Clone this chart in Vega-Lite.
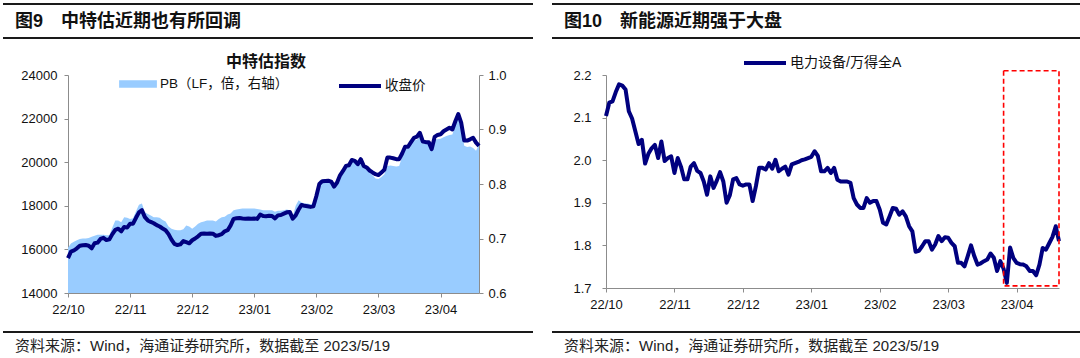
{
  "$schema": "https://vega.github.io/schema/vega-lite/v6.json",
  "padding": {"left": 2, "top": 3, "right": 0, "bottom": 0},
  "background": "white",
  "config": {
    "view": {"stroke": null},
    "font": "Liberation Sans",
    "axis": {"grid": false, "domainColor": "#8c8c8c", "tickColor": "#8c8c8c", "labelColor": "#111111", "labelFont": "Liberation Sans", "labelFontSize": 13, "tickSize": 4}
  },
  "datasets": {
    "s": [
      {"d":"2022-10-24","close":15600,"pb":0.683,"ratio":2.104},
      {"d":"2022-10-25","close":15900,"pb":0.691,"ratio":2.135},
      {"d":"2022-10-26","close":15950,"pb":0.694,"ratio":2.138},
      {"d":"2022-10-27","close":16050,"pb":0.697,"ratio":2.160},
      {"d":"2022-10-28","close":16170,"pb":0.699,"ratio":2.178},
      {"d":"2022-10-31","close":16190,"pb":0.700,"ratio":2.175},
      {"d":"2022-11-01","close":16200,"pb":0.700,"ratio":2.166},
      {"d":"2022-11-02","close":16170,"pb":0.701,"ratio":2.115},
      {"d":"2022-11-03","close":16050,"pb":0.703,"ratio":2.098},
      {"d":"2022-11-04","close":16280,"pb":0.705,"ratio":2.068},
      {"d":"2022-11-07","close":16310,"pb":0.707,"ratio":2.038},
      {"d":"2022-11-08","close":16480,"pb":0.707,"ratio":2.048},
      {"d":"2022-11-09","close":16530,"pb":0.707,"ratio":1.992},
      {"d":"2022-11-10","close":16430,"pb":0.706,"ratio":2.015},
      {"d":"2022-11-11","close":16460,"pb":0.706,"ratio":2.028},
      {"d":"2022-11-14","close":16700,"pb":0.720,"ratio":2.036},
      {"d":"2022-11-15","close":16900,"pb":0.733,"ratio":2.005},
      {"d":"2022-11-16","close":16950,"pb":0.733,"ratio":2.044},
      {"d":"2022-11-17","close":16830,"pb":0.730,"ratio":1.998},
      {"d":"2022-11-18","close":17030,"pb":0.739,"ratio":2.005},
      {"d":"2022-11-21","close":17000,"pb":0.738,"ratio":2.009},
      {"d":"2022-11-22","close":17180,"pb":0.736,"ratio":1.970},
      {"d":"2022-11-23","close":17180,"pb":0.737,"ratio":2.005},
      {"d":"2022-11-24","close":17450,"pb":0.750,"ratio":1.985},
      {"d":"2022-11-25","close":17700,"pb":0.762,"ratio":1.955},
      {"d":"2022-11-28","close":17800,"pb":0.764,"ratio":1.955},
      {"d":"2022-11-29","close":17480,"pb":0.748,"ratio":1.985},
      {"d":"2022-11-30","close":17330,"pb":0.745,"ratio":1.993},
      {"d":"2022-12-01","close":17260,"pb":0.742,"ratio":1.975},
      {"d":"2022-12-02","close":17200,"pb":0.739,"ratio":1.970},
      {"d":"2022-12-05","close":17110,"pb":0.739,"ratio":1.950},
      {"d":"2022-12-06","close":17050,"pb":0.738,"ratio":1.919},
      {"d":"2022-12-07","close":16960,"pb":0.734,"ratio":1.962},
      {"d":"2022-12-08","close":16880,"pb":0.731,"ratio":1.935},
      {"d":"2022-12-09","close":16700,"pb":0.722,"ratio":1.952},
      {"d":"2022-12-12","close":16450,"pb":0.718,"ratio":1.972},
      {"d":"2022-12-13","close":16250,"pb":0.716,"ratio":1.950},
      {"d":"2022-12-14","close":16200,"pb":0.715,"ratio":1.900},
      {"d":"2022-12-15","close":16230,"pb":0.715,"ratio":1.918},
      {"d":"2022-12-16","close":16380,"pb":0.717,"ratio":1.955},
      {"d":"2022-12-19","close":16330,"pb":0.724,"ratio":1.958},
      {"d":"2022-12-20","close":16280,"pb":0.722,"ratio":1.943},
      {"d":"2022-12-21","close":16420,"pb":0.718,"ratio":1.940},
      {"d":"2022-12-22","close":16500,"pb":0.722,"ratio":1.943},
      {"d":"2022-12-23","close":16600,"pb":0.727,"ratio":1.943},
      {"d":"2022-12-26","close":16720,"pb":0.730,"ratio":1.904},
      {"d":"2022-12-27","close":16730,"pb":0.731,"ratio":1.939},
      {"d":"2022-12-28","close":16720,"pb":0.733,"ratio":1.982},
      {"d":"2022-12-29","close":16730,"pb":0.733,"ratio":1.982},
      {"d":"2022-12-30","close":16720,"pb":0.733,"ratio":1.978},
      {"d":"2023-01-03","close":16620,"pb":0.731,"ratio":1.993},
      {"d":"2023-01-04","close":16650,"pb":0.736,"ratio":1.980},
      {"d":"2023-01-05","close":16700,"pb":0.739,"ratio":2.001},
      {"d":"2023-01-06","close":16830,"pb":0.740,"ratio":1.974},
      {"d":"2023-01-09","close":16880,"pb":0.744,"ratio":1.980},
      {"d":"2023-01-10","close":17100,"pb":0.746,"ratio":1.985},
      {"d":"2023-01-11","close":17400,"pb":0.752,"ratio":1.966},
      {"d":"2023-01-12","close":17430,"pb":0.753,"ratio":1.990},
      {"d":"2023-01-13","close":17440,"pb":0.754,"ratio":1.993},
      {"d":"2023-01-16","close":17420,"pb":0.755,"ratio":1.996},
      {"d":"2023-01-17","close":17410,"pb":0.755,"ratio":2.000},
      {"d":"2023-01-18","close":17420,"pb":0.755,"ratio":2.002},
      {"d":"2023-01-19","close":17410,"pb":0.755,"ratio":2.005},
      {"d":"2023-01-20","close":17420,"pb":0.755,"ratio":2.008},
      {"d":"2023-01-30","close":17400,"pb":0.754,"ratio":2.021},
      {"d":"2023-01-31","close":17600,"pb":0.753,"ratio":2.010},
      {"d":"2023-02-01","close":17530,"pb":0.752,"ratio":1.974},
      {"d":"2023-02-02","close":17520,"pb":0.752,"ratio":1.974},
      {"d":"2023-02-03","close":17540,"pb":0.752,"ratio":1.982},
      {"d":"2023-02-06","close":17530,"pb":0.752,"ratio":1.970},
      {"d":"2023-02-07","close":17420,"pb":0.749,"ratio":1.982},
      {"d":"2023-02-08","close":17560,"pb":0.751,"ratio":1.954},
      {"d":"2023-02-09","close":17580,"pb":0.751,"ratio":1.950},
      {"d":"2023-02-10","close":17640,"pb":0.752,"ratio":1.950},
      {"d":"2023-02-13","close":17700,"pb":0.753,"ratio":1.950},
      {"d":"2023-02-14","close":17720,"pb":0.752,"ratio":1.947},
      {"d":"2023-02-15","close":17410,"pb":0.740,"ratio":1.911},
      {"d":"2023-02-16","close":17560,"pb":0.760,"ratio":1.896},
      {"d":"2023-02-17","close":17830,"pb":0.770,"ratio":1.888},
      {"d":"2023-02-20","close":18040,"pb":0.766,"ratio":1.888},
      {"d":"2023-02-21","close":18000,"pb":0.764,"ratio":1.911},
      {"d":"2023-02-22","close":17980,"pb":0.764,"ratio":1.900},
      {"d":"2023-02-23","close":17950,"pb":0.763,"ratio":1.904},
      {"d":"2023-02-24","close":17980,"pb":0.764,"ratio":1.904},
      {"d":"2023-02-27","close":18450,"pb":0.782,"ratio":1.884},
      {"d":"2023-02-28","close":19000,"pb":0.806,"ratio":1.853},
      {"d":"2023-03-01","close":19130,"pb":0.808,"ratio":1.849},
      {"d":"2023-03-02","close":19140,"pb":0.809,"ratio":1.868},
      {"d":"2023-03-03","close":19150,"pb":0.808,"ratio":1.888},
      {"d":"2023-03-06","close":19110,"pb":0.807,"ratio":1.886},
      {"d":"2023-03-07","close":18880,"pb":0.797,"ratio":1.872},
      {"d":"2023-03-08","close":19070,"pb":0.803,"ratio":1.880},
      {"d":"2023-03-09","close":19400,"pb":0.816,"ratio":1.868},
      {"d":"2023-03-10","close":19600,"pb":0.821,"ratio":1.845},
      {"d":"2023-03-13","close":19830,"pb":0.831,"ratio":1.833},
      {"d":"2023-03-14","close":19860,"pb":0.833,"ratio":1.785},
      {"d":"2023-03-15","close":20100,"pb":0.842,"ratio":1.787},
      {"d":"2023-03-16","close":20060,"pb":0.841,"ratio":1.798},
      {"d":"2023-03-17","close":19910,"pb":0.836,"ratio":1.810},
      {"d":"2023-03-20","close":20140,"pb":0.842,"ratio":1.810},
      {"d":"2023-03-21","close":19830,"pb":0.833,"ratio":1.790},
      {"d":"2023-03-22","close":19760,"pb":0.826,"ratio":1.802},
      {"d":"2023-03-23","close":19620,"pb":0.821,"ratio":1.822},
      {"d":"2023-03-24","close":19530,"pb":0.816,"ratio":1.810},
      {"d":"2023-03-27","close":19450,"pb":0.810,"ratio":1.819},
      {"d":"2023-03-28","close":19410,"pb":0.809,"ratio":1.818},
      {"d":"2023-03-29","close":19530,"pb":0.813,"ratio":1.806},
      {"d":"2023-03-30","close":19650,"pb":0.818,"ratio":1.798},
      {"d":"2023-03-31","close":20210,"pb":0.833,"ratio":1.759},
      {"d":"2023-04-03","close":20210,"pb":0.834,"ratio":1.759},
      {"d":"2023-04-04","close":20180,"pb":0.833,"ratio":1.751},
      {"d":"2023-04-06","close":20140,"pb":0.832,"ratio":1.775},
      {"d":"2023-04-07","close":20140,"pb":0.833,"ratio":1.800},
      {"d":"2023-04-10","close":20400,"pb":0.850,"ratio":1.775},
      {"d":"2023-04-11","close":20710,"pb":0.864,"ratio":1.755},
      {"d":"2023-04-12","close":20710,"pb":0.866,"ratio":1.758},
      {"d":"2023-04-13","close":20920,"pb":0.876,"ratio":1.763},
      {"d":"2023-04-14","close":21120,"pb":0.880,"ratio":1.767},
      {"d":"2023-04-17","close":21170,"pb":0.881,"ratio":1.781},
      {"d":"2023-04-18","close":21350,"pb":0.886,"ratio":1.771},
      {"d":"2023-04-19","close":20950,"pb":0.874,"ratio":1.740},
      {"d":"2023-04-20","close":20920,"pb":0.876,"ratio":1.763},
      {"d":"2023-04-21","close":20920,"pb":0.876,"ratio":1.745},
      {"d":"2023-04-24","close":20600,"pb":0.864,"ratio":1.712},
      {"d":"2023-04-25","close":21160,"pb":0.881,"ratio":1.795},
      {"d":"2023-04-26","close":21250,"pb":0.882,"ratio":1.770},
      {"d":"2023-04-27","close":21280,"pb":0.883,"ratio":1.759},
      {"d":"2023-04-28","close":21420,"pb":0.886,"ratio":1.756},
      {"d":"2023-05-04","close":21500,"pb":0.888,"ratio":1.755},
      {"d":"2023-05-05","close":21580,"pb":0.890,"ratio":1.751},
      {"d":"2023-05-08","close":21500,"pb":0.891,"ratio":1.740},
      {"d":"2023-05-09","close":21880,"pb":0.909,"ratio":1.740},
      {"d":"2023-05-10","close":22210,"pb":0.926,"ratio":1.730},
      {"d":"2023-05-11","close":21800,"pb":0.905,"ratio":1.755},
      {"d":"2023-05-12","close":21000,"pb":0.870,"ratio":1.794},
      {"d":"2023-05-15","close":20990,"pb":0.868,"ratio":1.790},
      {"d":"2023-05-16","close":21050,"pb":0.869,"ratio":1.805},
      {"d":"2023-05-17","close":21120,"pb":0.866,"ratio":1.820},
      {"d":"2023-05-18","close":20900,"pb":0.861,"ratio":1.845},
      {"d":"2023-05-19","close":20750,"pb":0.872,"ratio":1.810}
    ],
    "box": [{"start": "2023-04-21", "end": "2023-05-19", "lo": 1.705, "hi": 2.21}],
    "edges": [{"edge": 0}, {"edge": 1}]
  },
  "columns": 1,
  "align": "none",
  "spacing": 15,
  "concat": [
    {
      "spacing": 17,
      "hconcat": [
        {
          "width": 530, "height": 34,
          "data": {"name": "edges"},
          "title": {"text": "图9　中特估近期也有所回调", "anchor": "start", "offset": -28, "dx": 13, "fontSize": 18, "fontWeight": "bold", "font": "Liberation Sans, Noto Sans CJK SC", "color": "#111111"},
          "mark": {"type": "rule", "stroke": "#1a1a1a", "strokeWidth": 1.8},
          "encoding": {"y": {"field": "edge", "type": "quantitative", "scale": {"domain": [0, 1]}, "axis": null}}
        },
        {
          "width": 530, "height": 34,
          "data": {"name": "edges"},
          "title": {"text": "图10　新能源近期强于大盘", "anchor": "start", "offset": -28, "dx": 13, "fontSize": 18, "fontWeight": "bold", "font": "Liberation Sans, Noto Sans CJK SC", "color": "#111111"},
          "mark": {"type": "rule", "stroke": "#1a1a1a", "strokeWidth": 1.8},
          "encoding": {"y": {"field": "edge", "type": "quantitative", "scale": {"domain": [0, 1]}, "axis": null}}
        }
      ]
    },
    {
      "spacing": 31,
      "resolve": {"scale": {"color": "independent", "stroke": "independent", "fill": "independent"}},
      "hconcat": [
        {
          "width": 476, "height": 218,
          "data": {"name": "s"},
          "title": {"text": "中特估指数", "fontSize": 16, "fontWeight": "bold", "font": "Noto Sans CJK SC", "color": "#111111", "frame": "group", "anchor": "middle", "offset": -1, "dx": 25},
          "encoding": {
            "x": {"field": "d", "type": "ordinal", "scale": {"type": "point", "padding": 0, "range": [65, 476]},
              "axis": {"values": ["2022-10-24","2022-11-22","2022-12-21","2023-01-20","2023-02-27","2023-03-28","2023-04-27"], "labelExpr": "slice(datum.value,2,4)+'/'+slice(datum.value,5,7)", "labelAngle": 0, "labelPadding": 6, "title": null}}
          },
          "layer": [
            {
              "mark": {"type": "area", "opacity": 1},
              "encoding": {
                "y": {"field": "pb", "type": "quantitative", "scale": {"domain": [0.6, 1.0], "zero": false, "nice": false},
                  "axis": {"orient": "right", "values": [0.6, 0.7, 0.8, 0.9, 1.0], "format": ".1f", "title": null, "labelPadding": 5, "minExtent": 40, "maxExtent": 40}},
                "y2": {"datum": 0.6},
                "fill": {"datum": "PB（LF，倍，右轴）", "type": "nominal", "scale": {"range": ["#99CCFF"]},
                  "legend": {"orient": "none", "legendX": 128, "legendY": 2, "title": null, "padding": 0, "symbolType": "M-2.7,-0.55L2.7,-0.55L2.7,0.55L-2.7,0.55Z", "symbolSize": 196, "symbolStrokeWidth": 0, "symbolOpacity": 1, "labelFont": "Liberation Sans, Noto Sans CJK SC", "labelFontSize": 13.5, "labelColor": "#111111", "labelOffset": 15}}
              }
            },
            {
              "mark": {"type": "line", "strokeWidth": 4, "strokeJoin": "round"},
              "encoding": {
                "y": {"field": "close", "type": "quantitative", "scale": {"domain": [14000, 24000], "zero": false, "nice": false},
                  "axis": {"orient": "left", "offset": -65, "values": [14000, 16000, 18000, 20000, 22000, 24000], "format": "d", "title": null, "labelPadding": 7, "minExtent": 0, "maxExtent": 200}},
                "stroke": {"datum": "收盘价", "type": "nominal", "scale": {"range": ["#00007F"]},
                  "legend": {"orient": "none", "legendX": 348, "legendY": 2, "title": null, "padding": 0, "symbolType": "M-3,0L3,0", "symbolSize": 196, "symbolStrokeWidth": 4, "labelFont": "Liberation Sans, Noto Sans CJK SC", "labelFontSize": 13.5, "labelColor": "#111111", "labelOffset": 16}}
              }
            }
          ],
          "resolve": {"scale": {"y": "independent"}}
        },
        {
          "width": 509, "height": 213,
          "layer": [
            {
              "data": {"name": "s"},
              "mark": {"type": "line", "strokeWidth": 4, "strokeJoin": "round"},
              "encoding": {
                "x": {"field": "d", "type": "ordinal", "scale": {"type": "point", "padding": 0, "range": [56, 509]},
                  "axis": {"values": ["2022-10-24","2022-11-22","2022-12-21","2023-01-20","2023-02-27","2023-03-28","2023-04-27"], "labelExpr": "slice(datum.value,2,4)+'/'+slice(datum.value,5,7)", "labelAngle": 0, "labelPadding": 6, "title": null}},
                "y": {"field": "ratio", "type": "quantitative", "scale": {"domain": [1.7, 2.2], "zero": false, "nice": false},
                  "axis": {"offset": -56, "values": [1.7, 1.8, 1.9, 2.0, 2.1, 2.2], "format": ".1f", "title": null, "labelPadding": 11, "minExtent": 0, "maxExtent": 200}},
                "color": {"datum": "电力设备/万得全A", "type": "nominal", "scale": {"range": ["#00007F"]},
                  "legend": {"orient": "none", "legendX": 206, "legendY": -21, "title": null, "padding": 0, "symbolType": "M-3,0L3,0", "symbolSize": 196, "symbolStrokeWidth": 4, "labelFont": "Liberation Sans, Noto Sans CJK SC", "labelFontSize": 14, "labelColor": "#111111", "labelOffset": 16}}
              }
            },
            {
              "data": {"name": "box"},
              "mark": {"type": "rect", "fill": null, "fillOpacity": 0, "stroke": "#FF0000", "strokeWidth": 1.6, "strokeDash": [5, 3], "clip": false},
              "encoding": {
                "x": {"field": "start", "type": "ordinal"},
                "x2": {"field": "end"},
                "y": {"field": "hi", "type": "quantitative"},
                "y2": {"field": "lo"}
              }
            }
          ]
        }
      ]
    },
    {
      "spacing": 17,
      "hconcat": [
        {
          "width": 530, "height": 18,
          "data": {"values": [{}]},
          "title": {"text": "资料来源：Wind，海通证券研究所，数据截至 2023/5/19", "anchor": "start", "offset": -23, "dx": 13, "fontSize": 15, "fontWeight": "normal", "font": "Liberation Sans, Noto Sans CJK SC", "color": "#222222"},
          "layer": [
            {"mark": {"type": "rule", "stroke": "#1a1a1a", "strokeWidth": 1.8}, "encoding": {"y": {"datum": 1, "type": "quantitative", "scale": {"domain": [0, 1]}, "axis": null}}}
          ]
        },
        {
          "width": 530, "height": 18,
          "data": {"values": [{}]},
          "title": {"text": "资料来源：Wind，海通证券研究所，数据截至 2023/5/19", "anchor": "start", "offset": -23, "dx": 13, "fontSize": 15, "fontWeight": "normal", "font": "Liberation Sans, Noto Sans CJK SC", "color": "#222222"},
          "layer": [
            {"mark": {"type": "rule", "stroke": "#1a1a1a", "strokeWidth": 1.8}, "encoding": {"y": {"datum": 1, "type": "quantitative", "scale": {"domain": [0, 1]}, "axis": null}}}
          ]
        }
      ]
    }
  ]
}
